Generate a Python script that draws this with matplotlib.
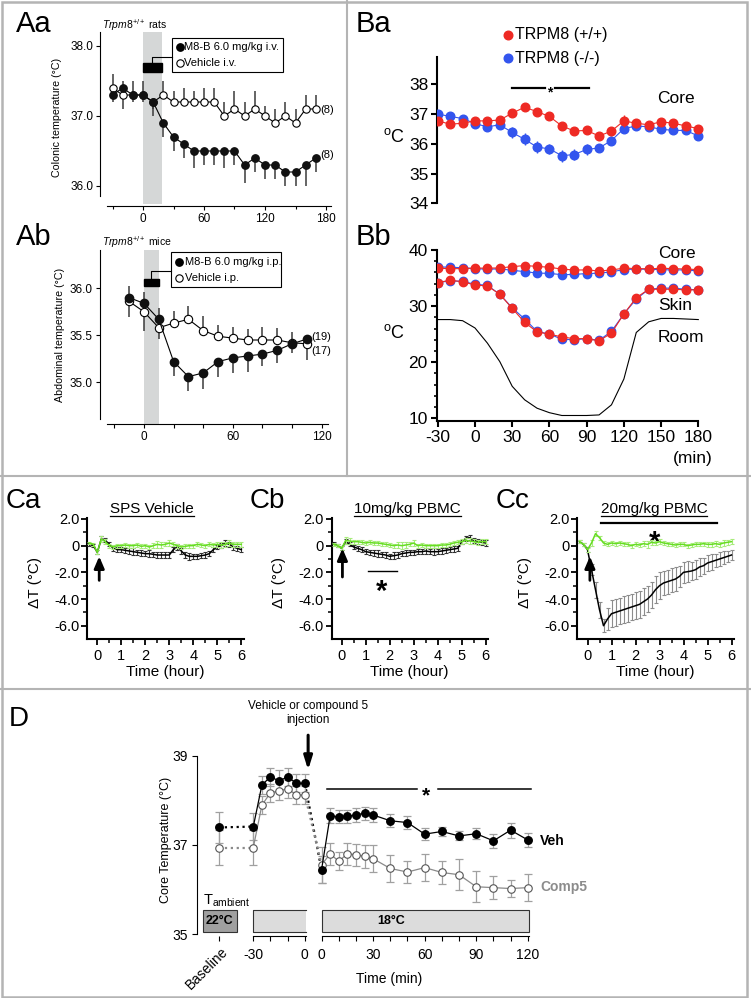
import numpy as np
import matplotlib.pyplot as plt
from matplotlib.lines import Line2D
from matplotlib.patches import Rectangle

plt.rcParams['font.family'] = ['Liberation Sans', 'DejaVu Sans']
plt.rcParams['mathtext.fontset'] = 'custom'
plt.rcParams['mathtext.rm'] = 'Liberation Sans'
plt.rcParams['mathtext.it'] = 'Liberation Sans:italic'
plt.rcParams['mathtext.bf'] = 'Liberation Sans:bold'
plt.rcParams['axes.unicode_minus'] = False

# ---------------- data ----------------
# Aa: rats, colonic temperature (signed err: + up, - down)
aa_t = list(range(-30, 171, 10))
aa_m8b = [37.3, 37.4, 37.3, 37.3, 37.2, 36.9, 36.7, 36.6, 36.5, 36.5, 36.5,
          36.5, 36.5, 36.3, 36.4, 36.3, 36.3, 36.2, 36.2, 36.3, 36.4]
aa_m8b_err = [-0.1, 0.1, 0.2, 0.2, -0.2, -0.2, -0.2, -0.2, -0.25, -0.2, -0.2,
              -0.25, -0.2, -0.25, -0.2, -0.2, -0.2, -0.2, -0.2, -0.3, -0.2]
aa_veh = [37.4, 37.3, 37.3, 37.3, 37.2, 37.3, 37.2, 37.2, 37.2, 37.2, 37.2,
          37.0, 37.1, 37.0, 37.1, 37.0, 36.9, 37.0, 36.9, 37.1, 37.1]
aa_veh_err = [0.2, -0.2, -0.1, -0.1, -0.1, 0.2, 0.15, 0.2, 0.15, 0.2, 0.2,
              0.2, 0.25, 0.2, 0.25, 0.15, 0.2, 0.2, 0.2, 0.2, 0.2]

# Ab: mice, abdominal temperature
ab_t = list(range(-10, 111, 10))
ab_m8b = [35.90, 35.84, 35.67, 35.22, 35.06, 35.10, 35.22, 35.26, 35.28, 35.30, 35.34, 35.41, 35.46]
ab_m8b_err = [0.12, 0.12, 0.12, -0.15, -0.15, -0.17, -0.16, -0.16, -0.17, -0.13, -0.13, -0.1, -0.1]
ab_veh = [35.86, 35.75, 35.58, 35.63, 35.67, 35.55, 35.49, 35.47, 35.45, 35.45, 35.45, 35.42, 35.41]
ab_veh_err = [-0.17, -0.2, -0.12, 0.13, 0.14, 0.16, 0.12, 0.12, 0.12, 0.14, 0.13, 0.12, -0.17]

# Ba / Bb: TRPM8 mice
b_t = list(range(-30, 181, 10))
core_wt = [36.77, 36.66, 36.69, 36.77, 36.77, 36.80, 37.03, 37.23, 37.08, 36.92, 36.60,
           36.43, 36.45, 36.26, 36.43, 36.77, 36.69, 36.64, 36.74, 36.69, 36.60, 36.51]
core_wt_err = [0.08, 0.08, 0.08, 0.1, 0.1, 0.1, 0.1, 0.08, 0.08, 0.08, 0.1,
               0.1, 0.1, 0.1, 0.12, 0.2, 0.15, 0.1, 0.1, 0.1, 0.1, 0.1]
core_ko = [37.00, 36.92, 36.85, 36.68, 36.57, 36.64, 36.38, 36.15, 35.89, 35.83, 35.60,
           35.64, 35.81, 35.86, 36.11, 36.51, 36.60, 36.57, 36.49, 36.45, 36.45, 36.26]
core_ko_err = [0.1, 0.1, 0.1, 0.15, 0.1, 0.1, 0.2, 0.2, 0.2, 0.18, 0.2,
               0.2, 0.18, 0.15, 0.15, 0.12, 0.1, 0.1, 0.1, 0.1, 0.1, 0.1]
skin_wt = [34.2, 34.6, 34.35, 33.75, 33.6, 32.1, 29.6, 27.1, 25.4, 25.0, 24.5,
           24.2, 24.2, 23.8, 25.2, 28.6, 31.5, 33.0, 33.0, 33.0, 32.9, 32.9]
skin_ko = [34.2, 34.5, 34.4, 33.9, 33.7, 32.1, 29.7, 27.7, 25.5, 25.0, 24.1,
           24.0, 24.2, 23.9, 25.5, 28.6, 31.25, 33.0, 33.2, 33.2, 33.0, 32.9]
room = [27.6, 27.6, 27.4, 26.1, 23.4, 20.1, 15.7, 13.3, 11.8, 11.0, 10.5,
        10.5, 10.5, 10.6, 12.4, 17.0, 25.3, 27.2, 27.8, 27.8, 27.7, 27.6]

# C: delta T, every 10 min
c_min = list(range(-20, 361, 10))
ca_black = [0.1, 0.0, -0.5, 0.5, 0.4, 0.1, -0.2, -0.3, -0.3, -0.35,
            -0.4, -0.45, -0.5, -0.55, -0.6, -0.6, -0.65, -0.7, -0.7, -0.7,
            -0.7, -0.3, -0.1, -0.4, -0.7, -0.8, -0.8, -0.8, -0.75, -0.7,
            -0.6, -0.3, -0.1, 0.0, 0.2, 0.1, -0.1, -0.2, -0.3]
ca_green = [0.2, 0.1, -0.5, 0.5, 0.3, 0.0, -0.1, 0.0, 0.0, 0.05,
            0.0, 0.0, 0.05, -0.05, 0.0, -0.1, 0.0, 0.1, 0.05, 0.1,
            0.2, 0.1, 0.0, -0.1, -0.05, 0.0, 0.0, 0.1, 0.05, 0.0,
            0.1, 0.05, 0.1, 0.05, 0.1, 0.2, 0.1, 0.1, 0.1]
cb_black = [0.2, 0.0, -0.2, 0.3, 0.1, -0.1, -0.2, -0.3, -0.45, -0.5,
            -0.55, -0.6, -0.65, -0.7, -0.8, -0.75, -0.7, -0.6, -0.55, -0.5,
            -0.5, -0.45, -0.45, -0.4, -0.45, -0.45, -0.45, -0.4, -0.35, -0.3,
            -0.25, -0.2, 0.3, 0.55, 0.6, 0.4, 0.3, 0.25, 0.2]
cb_green = [0.1, 0.0, -0.2, 0.4, 0.35, 0.3, 0.3, 0.25, 0.2, 0.25,
            0.2, 0.2, 0.15, 0.1, 0.05, 0.0, 0.05, 0.0, 0.05, 0.1,
            0.2, 0.0, 0.05, 0.0, 0.0, 0.0, 0.0, 0.05, 0.05, 0.1,
            0.2, 0.25, 0.3, 0.4, 0.35, 0.3, 0.25, 0.3, 0.3]
cc_black = [0.3, 0.1, -0.3, -1.8, -3.3, -4.8, -6.0, -5.5, -5.1, -5.0,
            -4.9, -4.8, -4.7, -4.6, -4.5, -4.4, -4.2, -4.0, -3.7, -3.3,
            -3.0, -2.8, -2.7, -2.6, -2.5, -2.3, -2.0, -1.95, -1.9, -1.8,
            -1.6, -1.5, -1.3, -1.2, -1.1, -1.0, -0.9, -0.8, -0.7]
cc_green = [0.3, 0.1, -0.3, 0.2, 0.9, 0.6, 0.2, 0.1, 0.2, 0.15,
            0.2, 0.15, 0.1, 0.0, 0.1, 0.05, 0.15, 0.1, 0.25, 0.2,
            0.3, 0.2, 0.15, 0.1, 0.05, 0.1, 0.1, 0.0, 0.05, 0.1,
            0.1, 0.15, 0.1, 0.1, 0.15, 0.1, 0.2, 0.25, 0.3]
c_err_black = [0.1, 0.1, 0.15, 0.2, 0.15, 0.15, 0.2, 0.2, 0.2, 0.2,
               0.2, 0.25, 0.2, 0.2, 0.2, 0.25, 0.2, 0.2, 0.2, 0.2,
               0.2, 0.2, 0.2, 0.2, 0.2, 0.25, 0.2, 0.2, 0.2, 0.2,
               0.2, 0.2, 0.15, 0.2, 0.2, 0.2, 0.2, 0.2, 0.2]
c_err_green = [0.1, 0.1, 0.15, 0.25, 0.2, 0.15, 0.15, 0.15, 0.15, 0.15,
               0.15, 0.15, 0.15, 0.15, 0.15, 0.15, 0.2, 0.25, 0.2, 0.15,
               0.2, 0.15, 0.15, 0.15, 0.15, 0.15, 0.15, 0.15, 0.15, 0.15,
               0.15, 0.15, 0.2, 0.2, 0.2, 0.2, 0.2, 0.2, 0.2]
cc_err_black = [0.1, 0.1, 0.2, 0.4, 0.6, 0.6, 0.5, 0.8, 1.0, 1.0,
                1.0, 1.0, 1.0, 1.0, 1.0, 1.0, 1.0, 1.0, 1.0, 1.0,
                1.0, 0.9, 0.9, 0.9, 0.9, 0.8, 0.8, 0.8, 0.7, 0.7,
                0.7, 0.6, 0.6, 0.6, 0.5, 0.5, 0.5, 0.4, 0.4]

# D: core temperature, Veh vs Comp5
d_base_veh, d_base_veh_err = 37.39, 0.35
d_base_comp, d_base_comp_err = 36.94, 0.4
d_pre_t = [-30, -25, -20, -15, -10, -5, 0]
d_pre_veh = [37.41, 38.34, 38.53, 38.43, 38.53, 38.38, 38.38]
d_pre_veh_err = [0.3, 0.2, 0.2, 0.25, 0.2, 0.2, 0.2]
d_pre_comp = [36.94, 37.89, 38.17, 38.21, 38.26, 38.12, 38.12]
d_pre_comp_err = [0.4, 0.2, 0.2, 0.2, 0.2, 0.2, 0.2]
d_post_t = [0, 5, 10, 15, 20, 25, 30, 40, 50, 60, 70, 80, 90, 100, 110, 120]
d_post_veh = [36.44, 37.65, 37.63, 37.64, 37.67, 37.71, 37.67, 37.54, 37.50,
              37.24, 37.30, 37.20, 37.25, 37.09, 37.33, 37.11]
d_post_veh_err = [0.3, 0.17, 0.15, 0.15, 0.15, 0.15, 0.15, 0.15, 0.15,
                  0.13, 0.1, 0.1, 0.12, 0.15, 0.17, 0.15]
d_post_comp = [36.55, 36.80, 36.63, 36.80, 36.78, 36.74, 36.69, 36.47, 36.39,
               36.49, 36.38, 36.33, 36.06, 36.04, 36.02, 36.04]
d_post_comp_err = [0.4, 0.25, 0.2, 0.25, 0.25, 0.25, 0.3, 0.3, 0.25,
                   0.3, 0.25, 0.35, 0.35, 0.25, 0.2, 0.3]
D_GAP = 9.7  # post-injection axis offset

# ---------------- helpers ----------------
W, H = 751, 998
fig = plt.figure(figsize=(W / 100, H / 100), dpi=100)


def make_ax(cal_x, cal_y, xlim, ylim):
    (xa, pxa), (xb, pxb) = cal_x
    (ya, pya), (yb, pyb) = cal_y
    sx = (pxb - pxa) / (xb - xa)
    sy = (pyb - pya) / (yb - ya)
    left = pxa + (xlim[0] - xa) * sx
    right = pxa + (xlim[1] - xa) * sx
    top = pya + (ylim[1] - ya) * sy
    bottom = pya + (ylim[0] - ya) * sy
    ax = fig.add_axes([left / W, 1 - bottom / H, (right - left) / W, (bottom - top) / H])
    ax.set_xlim(xlim)
    ax.set_ylim(ylim)
    ax.patch.set_visible(False)
    for s in ('top', 'right'):
        ax.spines[s].set_visible(False)
    return ax


def ftext(x, y, s, **kw):
    return fig.text(x / W, 1 - y / H, s, **kw)


def fline(xs, ys, **kw):
    fig.add_artist(Line2D([x / W for x in xs], [1 - y / H for y in ys], **kw))


def star(ax, x, y, fs):
    ax.annotate('*', xy=(x, y), xytext=(0, -0.59 * fs), textcoords='offset points',
                ha='center', va='baseline', fontsize=fs, fontweight='bold',
                annotation_clip=False)


BAND = '#d5d7d7'
ERRC = '#3a3a3a'

# ---------------- Aa ----------------
ax = make_ax(((0, 143), (120, 265)), ((37, 116), (36, 186)), (-42, 190), (35.75, 38.2))
ax.axvspan(0, 18.5, color=BAND, lw=0, zorder=0)
ax.spines['left'].set_bounds(35.85, 38.2)
ax.spines['bottom'].set_position(('outward', 1.5))
ax.spines['bottom'].set_bounds(-35, 185)
for s in ('left', 'bottom'):
    ax.spines[s].set_linewidth(0.8)
ax.vlines(aa_t, aa_veh, np.add(aa_veh, aa_veh_err), color=ERRC, lw=1.1, zorder=2)
ax.vlines(aa_t, aa_m8b, np.add(aa_m8b, aa_m8b_err), color=ERRC, lw=1.1, zorder=2)
ax.plot(aa_t, aa_veh, '-o', color='k', mfc='white', mec='k', ms=5.3, mew=0.8, lw=0.8, zorder=3)
ax.plot(aa_t, aa_m8b, '-o', color='k', mfc='#111111', mec='#111111', ms=5.3, lw=0.8, zorder=4)
ax.set_yticks([36, 37, 38])
ax.set_yticklabels(['36.0', '37.0', '38.0'])
ax.set_xticks([0, 60, 120, 180])
ax.set_xticks([-30, 30, 90, 150], minor=True)
ax.tick_params(labelsize=8.5, length=3, width=0.8, pad=2)
ax.tick_params(which='minor', length=2, width=0.8)
ax.add_patch(Rectangle((0, 37.634), 18.5, 0.119, color='k', zorder=5))
ax.plot([9.25, 9.25, 28.5], [37.753, 37.847, 37.847], color='k', lw=0.8, clip_on=False)
ax.add_patch(Rectangle((28.5, 37.629), 109.2, 0.485, fill=False, ec='k', lw=0.8, clip_on=False))
ax.plot([36.4], [37.986], 'o', color='k', ms=5.3, clip_on=False)
ax.plot([36.4], [37.757], 'o', mfc='white', mec='k', mew=0.8, ms=5.3, clip_on=False)
ax.text(40.6, 37.986, 'M8-B 6.0 mg/kg i.v.', va='center', fontsize=8)
ax.text(40.6, 37.757, 'Vehicle i.v.', va='center', fontsize=8)
ax.text(174, 37.09, '(8)', va='center', fontsize=8)
ax.text(174, 36.44, '(8)', va='center', fontsize=8)
ftext(102, 29, r'$\mathit{Trpm8}^{+/+}$ rats', fontsize=7.5, va='baseline')
ftext(57, 117, 'Colonic temperature (°C)', rotation=90, ha='center', va='center', fontsize=7.7)

# ---------------- Ab ----------------
ax = make_ax(((0, 144), (120, 321.7)), ((36, 288.3), (35, 382.3)), (-29.8, 126), (34.56, 36.41))
ax.axvspan(0, 10, color=BAND, lw=0, zorder=0)
ax.spines['left'].set_bounds(34.61, 36.41)
ax.spines['bottom'].set_bounds(-25, 124)
for s in ('left', 'bottom'):
    ax.spines[s].set_linewidth(0.8)
ax.vlines(ab_t, ab_veh, np.add(ab_veh, ab_veh_err), color=ERRC, lw=1.1, zorder=2)
ax.vlines(ab_t, ab_m8b, np.add(ab_m8b, ab_m8b_err), color=ERRC, lw=1.1, zorder=2)
ax.plot(ab_t, ab_veh, '-o', color='k', mfc='white', mec='k', ms=6, mew=0.8, lw=0.8, zorder=3)
ax.plot(ab_t, ab_m8b, '-o', color='k', mfc='#111111', mec='#111111', ms=6, lw=0.8, zorder=4)
ax.set_yticks([35.0, 35.5, 36.0])
ax.set_yticklabels(['35.0', '35.5', '36.0'])
ax.set_xticks([0, 60, 120])
ax.set_xticks([-20, 20, 40, 80, 100], minor=True)
ax.tick_params(labelsize=8.5, length=3, width=0.8, pad=2)
ax.tick_params(which='minor', length=3, width=0.8)
ax.add_patch(Rectangle((0, 36.024), 10, 0.075, color='k', zorder=5))
ax.plot([5, 5, 18.3], [36.099, 36.184, 36.184], color='k', lw=0.8, clip_on=False)
ax.add_patch(Rectangle((18.3, 36.014), 73.9, 0.372, fill=False, ec='k', lw=0.8, clip_on=False))
ax.plot([23.3], [36.283], 'o', color='k', ms=5.3, clip_on=False)
ax.plot([23.3], [36.106], 'o', mfc='white', mec='k', mew=0.8, ms=5.3, clip_on=False)
ax.text(27.8, 36.283, 'M8-B 6.0 mg/kg i.p.', va='center', fontsize=8)
ax.text(27.8, 36.106, 'Vehicle i.p.', va='center', fontsize=8)
ax.text(113, 35.485, '(19)', va='center', fontsize=8)
ax.text(113, 35.336, '(17)', va='center', fontsize=8)
ftext(102, 246, r'$\mathit{Trpm8}^{+/+}$ mice', fontsize=7.5, va='baseline')
ftext(60, 335, 'Abdominal temperature (°C)', rotation=90, ha='center', va='center', fontsize=7.7)

# ---------------- Ba ----------------
RED, BLUE = '#ee2a24', '#3355ee'
ax = make_ax(((0, 475), (180, 698.3)), ((38, 84.3), (34, 203.3)), (-30.4, 186), (33.9, 38.93))
ax.spines['bottom'].set_visible(False)
ax.spines['left'].set_linewidth(1.5)
ax.spines['left'].set_bounds(34, 38.93)
ax.errorbar(b_t, core_ko, yerr=core_ko_err, fmt='-o', color=BLUE, ms=6.2, lw=0.8,
            elinewidth=1, capsize=0, zorder=3)
ax.errorbar(b_t, core_wt, yerr=core_wt_err, fmt='-o', color=RED, ms=6.2, lw=0.8,
            elinewidth=1, capsize=0, zorder=4)
ax.set_xticks([])
ax.set_yticks([34, 35, 36, 37, 38])
ax.tick_params(labelsize=12.5, length=4, width=1.5, pad=2)
ax.plot([26.6], [39.66], 'o', color=RED, ms=6.2, clip_on=False)
ax.plot([26.6], [38.88], 'o', color=BLUE, ms=6.2, clip_on=False)
ax.text(32.2, 39.66, 'TRPM8 (+/+)', va='center', fontsize=11.5)
ax.text(32.2, 38.88, 'TRPM8 (-/-)', va='center', fontsize=11.5)
ax.plot([29.5, 56.3], [37.88, 37.88], color='k', lw=1.6, clip_on=False)
ax.plot([64.4, 91.8], [37.88, 37.88], color='k', lw=1.6, clip_on=False)
star(ax, 60.4, 37.86, 10)
ftext(657, 103, 'Core', fontsize=12.5, va='baseline')
ftext(383, 142, r'$^{\mathregular{o}}$C', fontsize=13, va='baseline')

# ---------------- Bb ----------------
ax = make_ax(((0, 475), (180, 698.3)), ((40, 250), (10, 418.3)), (-30.4, 186), (9.57, 40.4))
for s in ('left', 'bottom'):
    ax.spines[s].set_linewidth(1.5)
ax.spines['bottom'].set_bounds(-30.4, 180)
ax.spines['left'].set_bounds(9.57, 40)
ax.plot(b_t, room, color='k', lw=0.8)
ax.plot(b_t, core_ko, '-o', color=BLUE, ms=6, lw=0.8, zorder=3)
ax.plot(b_t, core_wt, '-o', color=RED, ms=6, lw=0.8, zorder=4)
ax.plot(b_t, skin_ko, '-o', color=BLUE, ms=6, lw=0.8, zorder=3)
ax.plot(b_t, skin_wt, '-o', color=RED, ms=6, lw=0.8, zorder=4)
ax.set_xticks(list(range(-30, 181, 30)))
ax.set_yticks([10, 20, 30, 40])
ax.set_yticks([v for v in range(12, 40, 2) if v % 10], minor=True)
ax.tick_params(labelsize=12.5, length=4, width=1.5, pad=3)
ax.tick_params(which='minor', length=2.5, width=1.2)
ftext(658, 258, 'Core', fontsize=12.5, va='baseline')
ftext(658, 310, 'Skin', fontsize=12.5, va='baseline')
ftext(658, 342, 'Room', fontsize=12.5, va='baseline')
ftext(713, 463, '(min)', fontsize=12.5, ha='right', va='baseline')
ftext(383, 338, r'$^{\mathregular{o}}$C', fontsize=13, va='baseline')

# ---------------- C ----------------
c_h = np.array(c_min) / 60.0
GREEN, GREEN_E = '#66dd22', '#a8ec7c'
c_panels = [
    dict(x0=97.3, title='SPS Vehicle', tx=152, black=ca_black, berr=c_err_black, bec='#333333',
         green=ca_green, arrow=(0.08, -2.6, -0.8), sig=None),
    dict(x0=341.7, title='10mg/kg PBMC', tx=407.5, black=cb_black, berr=c_err_black, bec='#333333',
         green=cb_green, arrow=(0.03, -2.35, -0.2), sig=(1.11, 2.32, -1.9, 1.67, -2.77, 1.0)),
    dict(x0=587.5, title='20mg/kg PBMC', tx=654, black=cc_black, berr=cc_err_black, bec='#8c8c8c',
         green=cc_green, arrow=(0.1, -2.6, -0.8), sig=(0.56, 5.38, 1.72, 2.81, 0.93, 1.6)),
]
c_titles = []
for p in c_panels:
    x0 = p['x0']
    ax = make_ax(((0, x0), (6, x0 + 144)), ((2, 519), (-6, 625.7)), (-0.42, 6.1), (-7.02, 2.1))
    for s in ('left', 'bottom'):
        ax.spines[s].set_linewidth(1.5)
    ax.errorbar(c_h, p['black'], yerr=p['berr'], color='k', lw=1.1, ecolor=p['bec'],
                elinewidth=0.8, capsize=1.5, capthick=0.8, zorder=3)
    ax.errorbar(c_h, p['green'], yerr=c_err_green, color=GREEN, lw=1.1, ecolor=GREEN_E,
                elinewidth=0.8, capsize=1.5, capthick=0.8, zorder=4)
    ax.set_yticks([-6, -4, -2, 0, 2])
    ax.set_yticklabels(['-6.0', '-4.0', '-2.0', '0', '2.0'])
    ax.set_yticks([-5, -3, -1, 1], minor=True)
    ax.set_xticks(range(0, 7))
    ax.set_xticks(np.arange(0.5, 6, 1.0), minor=True)
    ax.tick_params(labelsize=10.5, length=4, width=1.3, pad=1.5)
    ax.tick_params(axis='x', pad=3)
    ax.tick_params(which='minor', length=3, width=1.1)
    ax_x, tail, head = p['arrow']
    ax.annotate('', xy=(ax_x, head), xytext=(ax_x, tail),
                arrowprops=dict(arrowstyle='-|>,head_width=0.3,head_length=0.7', lw=2,
                                color='k', shrinkA=0, shrinkB=0, mutation_scale=10), zorder=6)
    if p['sig']:
        sx0, sx1, sy, stx, sty, slw = p['sig']
        ax.plot([sx0, sx1], [sy, sy], color='k', lw=slw, clip_on=False)
        star(ax, stx, sty, 21)
    c_titles.append(ftext(p['tx'], 513, p['title'], fontsize=11, ha='center', va='baseline'))
    ftext(x0 - 62.3, 582, 'ΔT (°C)', rotation=90, ha='center', va='center', fontsize=11)
    ftext(x0 + 68, 672, 'Time (hour)', ha='center', va='center', fontsize=11)

# ---------------- D ----------------
ax = make_ax(((-30, 253.3), (130, 528.3)), ((39, 755.7), (35, 934)), (-62.9, 150), (34.95, 39.1))
ax.spines['bottom'].set_visible(False)
ax.spines['left'].set_bounds(35, 39)
ax.spines['left'].set_linewidth(0.8)
post_x = np.array(d_post_t) + D_GAP
GRAYL = '#8a8a8a'
EC = '#a0a0a0'
# dotted connectors
ax.plot([-50, d_pre_t[0]], [d_base_veh, d_pre_veh[0]], ls=':', color='k', lw=1.6)
ax.plot([-50, d_pre_t[0]], [d_base_comp, d_pre_comp[0]], ls=':', color=GRAYL, lw=1.6)
ax.plot([d_pre_t[-1], post_x[0]], [d_pre_veh[-1], d_post_veh[0]], ls=':', color='k', lw=1.6)
ax.plot([d_pre_t[-1], post_x[0]], [d_pre_comp[-1], d_post_comp[0]], ls=':', color=GRAYL, lw=1.6)
# error bars
for xs, ys, es in [([-50], [d_base_comp], [d_base_comp_err]), (d_pre_t, d_pre_comp, d_pre_comp_err),
                   (post_x, d_post_comp, d_post_comp_err), ([-50], [d_base_veh], [d_base_veh_err]),
                   (d_pre_t, d_pre_veh, d_pre_veh_err), (post_x, d_post_veh, d_post_veh_err)]:
    ax.errorbar(xs, ys, yerr=es, fmt='none', ecolor=EC, elinewidth=0.9, capsize=3, capthick=0.9, zorder=2)
# series
ax.plot(d_pre_t, d_pre_comp, '-o', color=GRAYL, mfc='white', mec='#555555', mew=0.8, ms=5.4, lw=0.9, zorder=3)
ax.plot(post_x, d_post_comp, '-o', color=GRAYL, mfc='white', mec='#555555', mew=0.8, ms=5.4, lw=0.9, zorder=3)
ax.plot([-50], [d_base_comp], 'o', mfc='white', mec='#555555', mew=0.8, ms=5.4, zorder=3)
ax.plot(d_pre_t, d_pre_veh, '-o', color='k', ms=5.4, lw=0.9, zorder=4)
ax.plot(post_x, d_post_veh, '-o', color='k', ms=5.4, lw=0.9, zorder=4)
ax.plot([-50], [d_base_veh], 'o', color='k', ms=5.4, zorder=4)
# broken x axis
ax.plot([-30, 0.6], [0, 0], transform=ax.get_xaxis_transform(), color='k', lw=0.8, clip_on=False)
ax.plot([D_GAP, 130.4], [0, 0], transform=ax.get_xaxis_transform(), color='k', lw=0.8, clip_on=False)
ax.set_xticks([-50, -30, 0] + list(np.arange(0, 121, 30) + D_GAP))
ax.set_xticklabels(['', '-30', '0', '0', '30', '60', '90', '120'])
ax.set_xticks([-20, -10] + [t + D_GAP for t in range(10, 120, 10) if t % 30], minor=True)
ax.set_yticks([35, 37, 39])
ax.tick_params(labelsize=10, length=3.5, width=0.8, pad=3)
ax.tick_params(axis='x', pad=5)
ax.tick_params(which='minor', length=3.5, width=0.8)
ax.annotate('Baseline', xy=(-50, 34.95), xytext=(1.5, -6), textcoords='offset points',
            rotation=45, rotation_mode='anchor', ha='right', va='top', fontsize=10,
            annotation_clip=False)
# ambient temperature boxes
ax.add_patch(Rectangle((-59.4, 35.05), 19.7, 0.49, fc='#a0a0a0', ec='#333333', lw=0.8))
ax.text(-49.55, 35.295, '22°C', ha='center', va='center', fontsize=9, fontweight='bold')
ax.add_patch(Rectangle((-30, 35.05), 30.6, 0.49, fc='#dcdcdc', lw=0))
ax.plot([0.6, -30, -30, 0.6], [35.54, 35.54, 35.05, 35.05], color='#333333', lw=0.8)
ax.add_patch(Rectangle((D_GAP, 35.05), 120.7, 0.49, fc='#dcdcdc', ec='#333333', lw=0.8))
ax.text(50.3, 35.295, '18°C', ha='center', va='center', fontsize=9, fontweight='bold')
ax.text(-59.5, 35.67, r'T$_{\mathregular{ambient}}$', va='baseline', fontsize=10.5)
# significance
ax.plot([12.6, 65.2], [38.26, 38.26], color='k', lw=1.1)
ax.plot([77.4, 131.5], [38.26, 38.26], color='k', lw=1.1)
star(ax, 70.6, 38.26, 15)
ax.text(136.8, 37.09, 'Veh', va='center', fontsize=10, fontweight='bold')
ax.text(136.8, 36.06, 'Comp5', va='center', fontsize=10, fontweight='bold', color='#8c8c8c')
ax.annotate('', xy=(1.9, 38.68), xytext=(1.9, 39.46),
            arrowprops=dict(arrowstyle='-|>,head_width=0.25,head_length=0.8', lw=2.2,
                            color='k', shrinkA=0, shrinkB=0, mutation_scale=10),
            annotation_clip=False)
ftext(308, 713, 'Vehicle or compound 5\ninjection', ha='center', va='center',
      fontsize=8.5, linespacing=1.15)
ftext(166, 840, 'Core Temperature (°C)', rotation=90, ha='center', va='center', fontsize=9)
ftext(389.5, 979, 'Time (min)', ha='center', va='center', fontsize=10)

# ---------------- panel letters ----------------
ftext(16, 32, 'Aa', fontsize=21, va='baseline')
ftext(16, 245, 'Ab', fontsize=21, va='baseline')
ftext(356, 32, 'Ba', fontsize=21, va='baseline')
ftext(356, 245, 'Bb', fontsize=21, va='baseline')
ftext(6, 508, 'Ca', fontsize=20, va='baseline')
ftext(250, 508, 'Cb', fontsize=20, va='baseline')
ftext(496, 508, 'Cc', fontsize=20, va='baseline')
ftext(9, 726, 'D', fontsize=20, va='baseline')

# ---------------- frame / separators ----------------
SEP = '#b4b4b4'
fline([347, 347], [0, 476], color=SEP, lw=1.5)
fline([0, W], [476, 476], color=SEP, lw=1.5)
fline([0, W], [689, 689], color=SEP, lw=1.5)
fig.add_artist(Rectangle((1.5 / W, 1.5 / H), 745.2 / W, 995 / H, transform=fig.transFigure,
                         fill=False, ec=SEP, lw=1.8))

# underline C titles
fig.canvas.draw()
rend = fig.canvas.get_renderer()
for t in c_titles:
    bb = t.get_window_extent(rend)
    fline([bb.x0, bb.x1], [515.5, 515.5], color='k', lw=0.9)

fig.savefig('out.png', dpi=100)
